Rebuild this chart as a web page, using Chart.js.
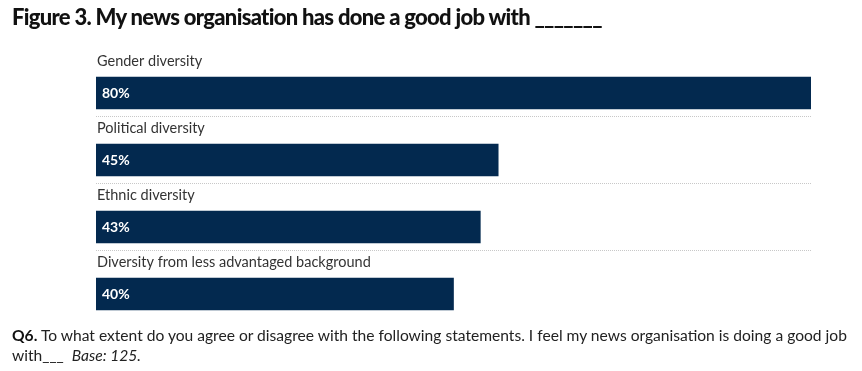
<!DOCTYPE html>
<html>
<head>
<meta charset="utf-8">
<script src="https://cdn.jsdelivr.net/npm/chart.js@4/dist/chart.umd.min.js"></script>
<style>
  html, body { margin: 0; padding: 0; background: #fff; }
  #wrap { position: relative; width: 862px; height: 371px; overflow: hidden; }
  #chart { position: absolute; left: 0; top: 0; }
  .title { position: absolute; left: 12px; top: 3px; font: 900 22px Lato, "Open Sans", sans-serif; color: #111; letter-spacing: -0.7px; white-space: nowrap; }
  .note { position: absolute; left: 12px; top: 325px; width: 845px; font: 15.6px Lato, "Open Sans", sans-serif; color: #222; line-height: 20px; }
  .note b { color: #111; }
</style>
</head>
<body>
<div id="wrap">
  <canvas id="chart" width="862" height="371"></canvas>
  <div class="title">Figure 3. My news organisation has done a good job with _______</div>
  <div class="note"><b>Q6.</b> To what extent do you agree or disagree with the following statements. I feel my news organisation is doing a good job with___&nbsp;&nbsp;<i>Base: 125.</i></div>
</div>
<script>
// data
const categories = ['Gender diversity', 'Political diversity', 'Ethnic diversity', 'Diversity from less advantaged background'];
const values = [80, 45, 43, 40];

const barColor = '#03294f';

// draws the category names above each bar, % inside, dotted rules between rows
const rowLabels = {
  id: 'rowLabels',
  afterDatasetsDraw(chart) {
    const ctx = chart.ctx;
    const meta = chart.getDatasetMeta(0);
    const area = chart.chartArea;
    ctx.save();
    meta.data.forEach((bar, i) => {
      const top = bar.y - bar.height / 2;
      const bottom = bar.y + bar.height / 2;
      ctx.fillStyle = '#333';
      ctx.font = '14.5px Lato, "Open Sans", sans-serif';
      ctx.textAlign = 'left';
      ctx.textBaseline = 'middle';
      ctx.fillText(categories[i], area.left + 1, top - 16);
      ctx.fillStyle = '#fff';
      ctx.font = 'bold 14px Lato, "Open Sans", sans-serif';
      ctx.fillText(values[i] + '%', area.left + 6, bar.y);
      if (i < meta.data.length - 1) {
        ctx.strokeStyle = '#c8c8c8';
        ctx.lineWidth = 1;
        ctx.setLineDash([1, 1]);
        ctx.beginPath();
        ctx.moveTo(area.left, Math.round(bottom + 7) + 0.5);
        ctx.lineTo(area.right, Math.round(bottom + 7) + 0.5);
        ctx.stroke();
      }
    });
    ctx.restore();
  }
};

new Chart(document.getElementById('chart'), {
  type: 'bar',
  data: {
    labels: categories,
    datasets: [{
      data: values,
      backgroundColor: barColor,
      borderWidth: 0,
      barThickness: 32
    }]
  },
  options: {
    indexAxis: 'y',
    responsive: false,
    animation: false,
    layout: { padding: { left: 96, right: 51, top: 59.5, bottom: 43.5 } },
    plugins: { legend: { display: false }, tooltip: { enabled: false } },
    scales: {
      x: { display: false, min: 0, max: 80 },
      y: { display: false }
    }
  },
  plugins: [rowLabels]
});
</script>
</body>
</html>
